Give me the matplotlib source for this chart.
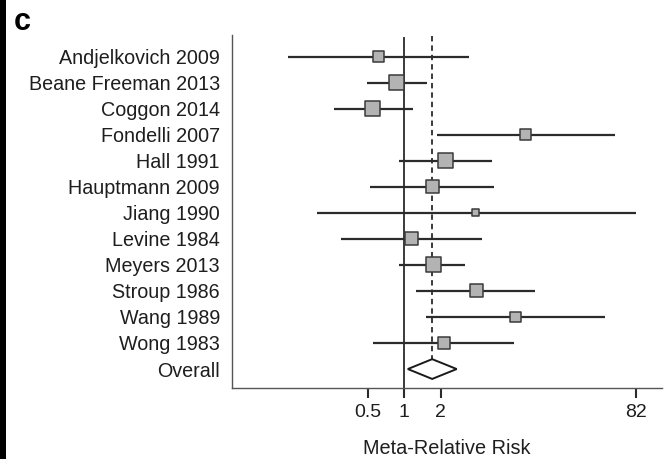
"""
Forest plot, panel c: meta-relative risk by study
"""

import numpy as np
import matplotlib
matplotlib.use('Agg')
import matplotlib.pyplot as plt
from matplotlib.patches import Polygon, Rectangle

plt.rcParams['font.family'] = ['Liberation Sans', 'DejaVu Sans']

# data
studies = ['Andjelkovich 2009', 'Beane Freeman 2013', 'Coggon 2014', 'Fondelli 2007',
           'Hall 1991', 'Hauptmann 2009', 'Jiang 1990', 'Levine 1984', 'Meyers 2013',
           'Stroup 1986', 'Wang 1989', 'Wong 1983']
rr = [0.61, 0.87, 0.55, 10.0, 2.18, 1.70, 3.90, 1.15, 1.74, 3.92, 8.3, 2.14]
ci_low = [0.11, 0.49, 0.26, 1.85, 0.90, 0.52, 0.19, 0.30, 0.91, 1.24, 1.52, 0.55]
ci_high = [3.45, 1.53, 1.19, 55.0, 5.3, 5.5, 82.0, 4.4, 3.2, 12.1, 45.7, 8.1]
weights = [5.9, 11.7, 11.7, 5.9, 11.3, 8.8, 2.6, 8.4, 11.7, 8.8, 5.9, 7.1]

overall_rr = 1.70
overall_low = 1.07
overall_high = 2.71

xticks = [0.5, 1, 2, 82]
xtick_labels = ['0.5', '1', '2', '82']

fig = plt.figure(figsize=(6.68, 4.59), dpi=100)
ax = fig.add_axes([0.347, 0.154, 0.644, 0.770])

n = len(studies)
ypos = np.arange(n)
line_col = '#2b2b2b'
text_col = '#1e1e1e'

# confidence intervals
ax.hlines(ypos, ci_low, ci_high, color=line_col, lw=1.6, zorder=2)

# boxes sized by weight
side_px = 15 * np.sqrt(np.array(weights) / max(weights))
ax.scatter(rr, ypos, marker='s', s=(side_px * 0.72) ** 2,
           facecolor='#b3b3b3', edgecolor='#3a3a3a', linewidth=1.1, zorder=3)

# overall diamond
yo = n
h = 0.38
diamond = Polygon([[overall_low, yo], [overall_rr, yo - h],
                   [overall_high, yo], [overall_rr, yo + h]],
                  closed=True, facecolor='white', edgecolor='#1a1a1a', lw=1.4, zorder=3)
ax.add_patch(diamond)

ax.set_xscale('log')
ax.set_xlim(0.0375, 135)
ax.set_ylim(n + 0.74, -0.83)

# reference lines
ax.vlines(1, -0.75, n + 0.74, color=line_col, lw=1.3, zorder=1)
ax.vlines(overall_rr, -0.78, yo + h, color=line_col, lw=1.3,
          linestyle=(0, (3, 2.2)), zorder=1)

ax.set_yticks(list(ypos) + [yo])
ax.set_yticklabels(studies + ['Overall'], fontsize=14.2, color=text_col)
ax.tick_params(axis='y', length=0, pad=8.5)

ax.set_xticks(xticks)
ax.set_xticklabels(xtick_labels, fontsize=14, color=text_col)
ax.xaxis.set_minor_locator(matplotlib.ticker.NullLocator())
ax.tick_params(axis='x', length=7, width=1.5, color='#2b2b2b', direction='out', pad=4)

ax.set_xlabel('Meta-Relative Risk', fontsize=14.3, color=text_col, labelpad=13)

for side in ['top', 'right']:
    ax.spines[side].set_visible(False)
for side in ['left', 'bottom']:
    ax.spines[side].set_color('#555555')
    ax.spines[side].set_linewidth(1.0)

# panel letter and black edge strip from the original crop
fig.text(0.021, 0.952, 'c', fontsize=22, fontweight='bold', va='center', ha='left')
fig.patches.append(Rectangle((0, 0), 6 / 668, 1, transform=fig.transFigure,
                             facecolor='black', edgecolor='none'))

plt.savefig('out.png', dpi=100)
